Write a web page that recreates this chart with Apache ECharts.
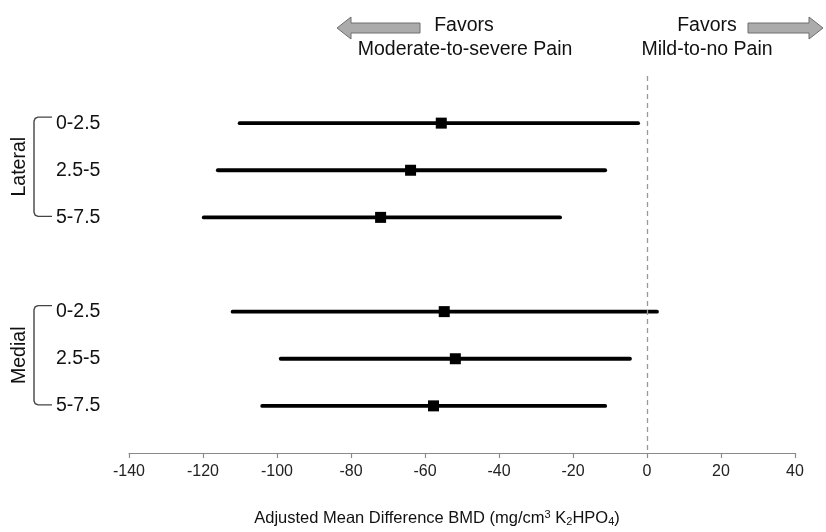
<!DOCTYPE html>
<html>
<head>
<meta charset="utf-8">
<script src="https://cdn.jsdelivr.net/npm/echarts@6/dist/echarts.min.js"></script>
<style>
html,body{margin:0;padding:0;background:#fff;}
#chart{width:826px;height:532px;}
</style>
</head>
<body>
<div id="chart"></div>
<script>
// ---- data ----
const groups = ['Lateral', 'Medial'];
const depths = ['0-2.5', '2.5-5', '5-7.5'];
const lateralMean = [-55.6, -63.9, -72.0];
const lateralLow  = [-110.1, -116.0, -119.8];
const lateralHigh = [-2.4, -11.3, -23.5];
const medialMean  = [-54.8, -51.8, -57.7];
const medialLow   = [-112.0, -99.0, -104.0];
const medialHigh  = [2.7, -4.6, -11.3];
const xTicks = [-140, -120, -100, -80, -60, -40, -20, 0, 20, 40];

// category rows (top to bottom), with blank spacer rows
const rowKeys = ['top'];
groups.forEach((g, gi) => {
  depths.forEach(d => rowKeys.push(g + '|' + d));
  rowKeys.push(gi === 0 ? 'gap' : 'bottom');
});

const meanByGroup = [lateralMean, medialMean];
const lowByGroup = [lateralLow, medialLow];
const highByGroup = [lateralHigh, medialHigh];
const barData = [], meanData = [];
groups.forEach((g, gi) => {
  depths.forEach((d, di) => {
    const idx = rowKeys.indexOf(g + '|' + d);
    barData.push([lowByGroup[gi][di], highByGroup[gi][di], idx]);
    meanData.push([meanByGroup[gi][di], idx]);
  });
});

const FONT = '"Liberation Sans", Arial, sans-serif';
const NARROW = '"Liberation Sans Narrow", "Arial Narrow", "Liberation Sans", sans-serif';
const TXT = 19.5;

const chart = echarts.init(document.getElementById('chart'));
chart.setOption({
  animation: false,
  backgroundColor: '#fff',
  grid: { left: 129, right: 31, top: 76, bottom: 72, containLabel: false },
  xAxis: {
    type: 'value',
    min: xTicks[0], max: xTicks[xTicks.length - 1], interval: 20,
    splitLine: { show: false },
    axisLine: { show: true, lineStyle: { color: '#8a8a8a', width: 1.2 } },
    axisTick: { show: true, length: 5, lineStyle: { color: '#8a8a8a', width: 1.2 } },
    axisLabel: { color: '#222', fontFamily: NARROW, fontSize: 16, margin: 11 },
    name: '{n|Adjusted Mean Difference BMD (mg/cm}{sup|3}{n| K}{sub|2}{n|HPO}{sub|4}{n|)}',
    nameLocation: 'middle',
    nameGap: 56,
    nameTextStyle: {
      padding: [0, 50, 0, 0],
      rich: {
        n: { fontFamily: FONT, fontSize: 16.5, color: '#111' },
        sup: { fontFamily: FONT, fontSize: 11, color: '#111', verticalAlign: 'top', padding: [0, 0, 7, 0] },
        sub: { fontFamily: FONT, fontSize: 11, color: '#111', verticalAlign: 'bottom', padding: [7, 0, 0, 0] }
      }
    }
  },
  yAxis: {
    type: 'category',
    data: rowKeys,
    inverse: true,
    boundaryGap: false,
    axisLine: { show: false },
    axisTick: { show: false },
    splitLine: { show: false },
    axisLabel: {
      show: true,
      interval: 0,
      align: 'left',
      margin: 73,
      color: '#111',
      fontFamily: FONT,
      fontSize: TXT,
      formatter: v => (v.indexOf('|') >= 0 ? v.split('|')[1] : '')
    }
  },
  series: [
    {
      type: 'custom',
      coordinateSystem: 'cartesian2d',
      data: barData,
      dimensions: ['low', 'high', 'row'],
      encode: { x: ['low', 'high'], y: 'row' },
      renderItem: function (params, api) {
        const yi = api.value(2);
        const p1 = api.coord([api.value(0), yi]);
        const p2 = api.coord([api.value(1), yi]);
        return {
          type: 'line',
          shape: { x1: p1[0], y1: p1[1], x2: p2[0], y2: p2[1] },
          style: { stroke: '#000', lineWidth: 3.8, lineCap: 'round' }
        };
      },
      z: 2
    },
    {
      type: 'scatter',
      data: meanData,
      symbol: 'rect',
      symbolSize: 11,
      itemStyle: { color: '#000', opacity: 1 },
      markLine: {
        silent: true,
        symbol: 'none',
        label: { show: false },
        lineStyle: { color: '#999', type: [5, 4], width: 1.3, opacity: 1 },
        data: [{ xAxis: 0 }]
      },
      z: 3
    }
  ]
});

// decorations: brackets, group labels, header arrows
function decorations() {
  const els = [];
  groups.forEach((g, gi) => {
    const y1 = chart.convertToPixel({ yAxisIndex: 0 }, rowKeys.indexOf(g + '|' + depths[0])) - 6;
    const y3 = chart.convertToPixel({ yAxisIndex: 0 }, rowKeys.indexOf(g + '|' + depths[depths.length - 1])) - 1;
    const x = 34, xr = 52;
    els.push({
      type: 'polyline',
      shape: {
        points: [[xr, y1], [x + 4, y1], [x + 1.2, y1 + 1.2], [x, y1 + 4], [x, y3 - 4], [x + 1.2, y3 - 1.2], [x + 4, y3], [xr, y3]]
      },
      style: { fill: null, stroke: '#444', lineWidth: 1.4 }
    });
    els.push({
      type: 'text',
      x: 20, y: (y1 + y3) / 2,
      rotation: Math.PI / 2,
      style: { text: g, fontFamily: FONT, fontSize: TXT, fill: '#111', align: 'center', verticalAlign: 'middle' }
    });
  });
  // header texts
  const hdr = (x, y, t) => ({ type: 'text', x: x, y: y, style: { text: t, fontFamily: FONT, fontSize: TXT, fill: '#111', align: 'center', verticalAlign: 'middle' } });
  els.push(hdr(464, 26, 'Favors'));
  els.push(hdr(465, 50, 'Moderate-to-severe Pain'));
  els.push(hdr(707, 26, 'Favors'));
  els.push(hdr(707, 50, 'Mild-to-no Pain'));
  // arrows
  const cy = 28, bh = 5, hh = 11, hl = 14;
  els.push({
    type: 'polygon',
    shape: { points: [[337, cy], [337 + hl, cy - hh], [337 + hl, cy - bh], [420, cy - bh], [420, cy + bh], [337 + hl, cy + bh], [337 + hl, cy + hh]] },
    style: { fill: '#ababab', stroke: '#6e6e6e', lineWidth: 1 }
  });
  els.push({
    type: 'polygon',
    shape: { points: [[823, cy], [823 - hl, cy - hh], [823 - hl, cy - bh], [748, cy - bh], [748, cy + bh], [823 - hl, cy + bh], [823 - hl, cy + hh]] },
    style: { fill: '#ababab', stroke: '#6e6e6e', lineWidth: 1 }
  });
  chart.setOption({ graphic: { elements: els } });
}
decorations();
</script>
</body>
</html>
